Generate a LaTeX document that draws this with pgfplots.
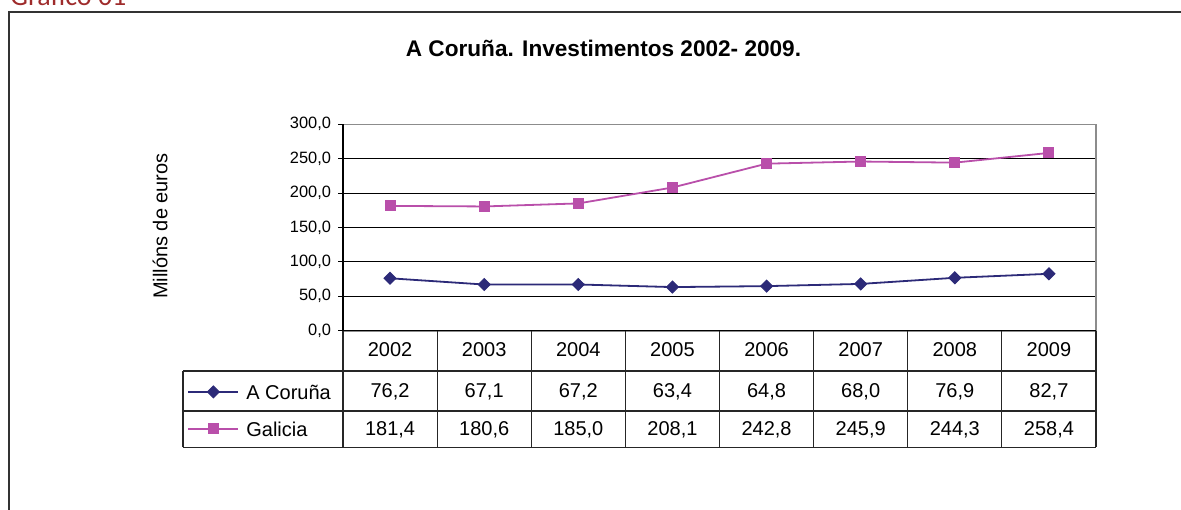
\documentclass[border=0pt]{standalone}
\usepackage{pgfplots}
\pgfplotsset{compat=1.18}
\usepackage{pgfplotstable}
\usepackage{fontspec}
\setmainfont{Liberation Sans}
\newfontfamily\calib{Carlito}
\definecolor{navyser}{HTML}{2C2A78}
\definecolor{magser}{HTML}{B94FAA}
\definecolor{framegray}{HTML}{333333}
\definecolor{titlered}{HTML}{9E2B2B}

\pgfplotstableread{
x year coruna galicia
0 2002 76.2 181.4
1 2003 67.1 180.6
2 2004 67.2 185.0
3 2005 63.4 208.1
4 2006 64.8 242.8
5 2007 68.0 245.9
6 2008 76.9 244.3
7 2009 82.7 258.4
}\datatable

\begin{document}
\begin{tikzpicture}[x=0.5pt,y=0.5pt]
\draw[framegray, line width=1pt] (9,-20) -- (9,497) -- (1220,497);
\node[anchor=base west, text=titlered, font=\calib\fontsize{14}{16}\selectfont, inner sep=0pt] at (10,503) {Gráfico 01};
\node[anchor=base, font=\bfseries\fontsize{11.3}{13}\selectfont, inner sep=0pt] at (603.5,452) {A Coruña. Investimentos 2002- 2009.};
\node[rotate=90, font=\fontsize{10}{12}\selectfont, inner sep=0pt] at (160,283) {Millóns de euros};
\begin{axis}[
  at={(171.5pt,89.15pt)}, anchor=south west,
  width=376.5pt, height=103.2pt, scale only axis,
  xmin=-0.5, xmax=7.5, ymin=0, ymax=300,
  xtick=\empty, ytick={0,50,...,300}, ytick pos=left,
  ymajorgrids, grid style={black, line width=0.5pt},
  axis line style={draw=gray!90, line width=0.8pt},
  tick align=outside, major tick length=2.5pt,
  ytick style={black, line width=0.5pt},
  scaled y ticks=false,
  yticklabel style={font=\fontsize{8.2}{9}\selectfont,
    /pgf/number format/fixed, /pgf/number format/fixed zerofill,
    /pgf/number format/precision=1, /pgf/number format/use comma,
    /pgf/number format/1000 sep={}, /pgf/number format/assume math mode=true},
  legend style={at={(axis description cs:-0.207,-0.2655)}, anchor=north west,
    draw=none, fill=none, inner sep=0pt, row sep=9.5pt, column sep=3.5pt,
    nodes={inner sep=0pt, text height=7pt, text depth=2pt, font=\fontsize{10}{12}\selectfont}},
  legend cell align=left,
  legend image code/.code={\draw[mark repeat=2,mark phase=2,#1] plot coordinates {(0pt,1.5pt) (12.5pt,1.5pt) (25pt,1.5pt)};},
]
\addplot[navyser, line width=0.9pt, mark=square*, mark size=2.1pt, mark options={rotate=45, solid, fill=navyser, line width=0.5pt}] table[x=x,y=coruna]{\datatable};
\addlegendentry{A Coruña}
\addplot[magser, line width=0.9pt, mark=square*, mark size=2.5pt, mark options={solid, fill=magser, line width=0.5pt}] table[x=x,y=galicia]{\datatable};
\addlegendentry{Galicia}
\end{axis}
\draw[black, line width=0.6pt] (343,384.7) -- (343,178.3) -- (1096,178.3);
\draw[black!85, line width=0.6pt] (183,138) -- (1096,138) (183,98) -- (1096,98) (183,61.7) -- (1096,61.7) (183,61.7) -- (183,138);
\foreach \k in {0,...,8} \draw[black!85, line width=0.6pt] ({343+94.125*\k},61.7) -- ({343+94.125*\k},178.3);
\foreach \k/\yr/\a/\g in {0/2002/{76,2}/{181,4},1/2003/{67,1}/{180,6},2/2004/{67,2}/{185,0},3/2005/{63,4}/{208,1},4/2006/{64,8}/{242,8},5/2007/{68,0}/{245,9},6/2008/{76,9}/{244,3},7/2009/{82,7}/{258,4}}{
  \node[anchor=base, inner sep=0pt, font=\fontsize{10}{12}\selectfont] at ({343+94.125*(\k+0.5)},153) {\yr};
  \node[anchor=base, inner sep=0pt, font=\fontsize{10}{12}\selectfont] at ({343+94.125*(\k+0.5)},111.5) {\a};
  \node[anchor=base, inner sep=0pt, font=\fontsize{10}{12}\selectfont] at ({343+94.125*(\k+0.5)},74) {\g};
}
\pgfresetboundingbox
\path[use as bounding box] (0,0) rectangle (1181,509);
\end{tikzpicture}
\end{document}
